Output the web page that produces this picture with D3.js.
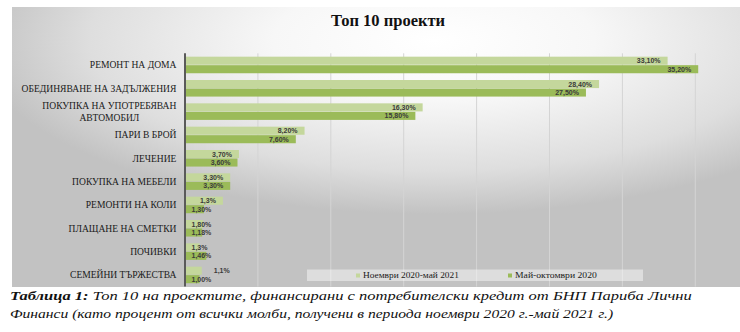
<!DOCTYPE html>
<html><head><meta charset="utf-8">
<script src="https://cdn.jsdelivr.net/npm/d3@7"></script>
<style>html,body{margin:0;padding:0;background:#fff;overflow:hidden}</style>
</head><body>
<svg id="c" width="740" height="332"></svg>
<script>
const categories = ["РЕМОНТ НА ДОМА","ОБЕДИНЯВАНЕ НА ЗАДЪЛЖЕНИЯ","ПОКУПКА НА УПОТРЕБЯВАН\nАВТОМОБИЛ","ПАРИ В БРОЙ","ЛЕЧЕНИЕ","ПОКУПКА НА МЕБЕЛИ","РЕМОНТИ НА КОЛИ","ПЛАЩАНЕ НА СМЕТКИ","ПОЧИВКИ","СЕМЕЙНИ ТЪРЖЕСТВА"];
const seriesNames = ["Ноември 2020-май 2021","Май-октомври 2020"];
const valuesNov = [33.1, 28.4, 16.3, 8.2, 3.7, 3.1, 2.6, 1.25, 1.0, 1.15];
const valuesMay = [35.2, 27.5, 15.8, 7.6, 3.6, 3.1, 1.3, 1.18, 1.46, 1.0];
const labelsNov = ["33,10%","28,40%","16,30%","8,20%","3,70%","3,30%","1,3%","1,80%","1,3%","1,1%"];
const labelsMay = ["35,20%","27,50%","15,80%","7,60%","3,60%","3,30%","1,30%","1,18%","1,46%","1,00%"];
const xTicks = [0,5,10,15,20,25,30,35,40];
const title = "Топ 10 проекти";
const captionBold = "Таблица 1:";
const captionLine1 = " Топ 10 на проектите, финансирани с потребителски кредит от БНП Париба Лични";
const captionLine2 = "Финанси (като процент от всички молби, получени в периода ноември 2020 г.-май 2021 г.)";

const colors = ["#c4d79c", "#9bbb59"];
const svg = d3.select("#c");
const SERIF = "'Liberation Serif', 'Times New Roman', serif";

function stretch(t, ax, sx){
  t.attr("transform", `translate(${ax},0) scale(${sx},1) translate(${-ax},0)`);
}

// background gradient
const defs = svg.append("defs");
const rg = defs.append("radialGradient").attr("id","bg")
  .attr("cx","0.57").attr("cy","0.12").attr("r","0.62").attr("fx","0.57").attr("fy","0.12");
rg.append("stop").attr("offset","0").attr("stop-color","#ffffff");
rg.append("stop").attr("offset","0.35").attr("stop-color","#f7f7f7");
rg.append("stop").attr("offset","0.75").attr("stop-color","#dedede");
rg.append("stop").attr("offset","1").attr("stop-color","#c2c2c2");
svg.append("rect").attr("x",12).attr("y",7).attr("width",740).attr("height",280).attr("fill","url(#bg)");

svg.append("text").attr("x",388).attr("y",26).attr("text-anchor","middle")
  .attr("font-family",SERIF).attr("font-weight","bold").attr("font-size",16.5)
  .attr("fill","#111").text(title);

const x = d3.scaleLinear().domain([0,40]).range([185, 185 + 40*14.58]);
const y = d3.scaleBand().domain(categories).range([53.3, 286.6]).paddingInner(0.29).paddingOuter(0.145);
const ys = d3.scaleBand().domain([0,1]).range([0, y.bandwidth()]).paddingInner(0.05);

// gridlines
svg.append("g").selectAll("line").data(xTicks.filter(t=>t>0)).join("line")
  .attr("x1",d=>x(d)).attr("x2",d=>x(d)).attr("y1",53.3).attr("y2",286.6)
  .attr("stroke","#d4d4d4").attr("stroke-width",1);

// legend box
const lg = svg.append("g");
lg.append("rect").attr("x",307).attr("y",269.5).attr("width",336).attr("height",11.5)
  .attr("fill","#ffffff").attr("fill-opacity",0.45);

// bars
const rows = categories.map((c,i)=>({c, vals:[valuesNov[i], valuesMay[i]], labs:[labelsNov[i], labelsMay[i]], i}));
const gRows = svg.append("g").selectAll("g").data(rows).join("g")
  .attr("transform", d=>`translate(0,${y(d.c)})`);
gRows.selectAll("rect").data(d=>d.vals.map((v,k)=>({v,k}))).join("rect")
  .attr("x", x(0)).attr("y", d=>ys(d.k)).attr("height", ys.bandwidth())
  .attr("width", d=>x(d.v)-x(0)).attr("fill", d=>colors[d.k]);

// data labels
const outside = new Set(["СЕМЕЙНИ ТЪРЖЕСТВА|0"]);
gRows.each(function(r){
  const g = d3.select(this);
  r.vals.forEach((v,k)=>{
    const t = g.append("text").attr("font-family","Liberation Sans").attr("font-weight","bold")
      .attr("font-size",7).attr("fill","#3a3a3a").attr("dominant-baseline","central")
      .attr("y", ys(k)+ys.bandwidth()/2).text(r.labs[k]);
    const w = t.node().getComputedTextLength();
    let x0;
    if (outside.has(r.c+"|"+k)) x0 = x(v) + 12;
    else x0 = Math.max(x(0)+6.5, x(v) - 7 - w);
    t.attr("x", x0);
  });
});

// axis line
svg.append("line").attr("x1",x(0)).attr("x2",x(0)).attr("y1",53.3).attr("y2",286.6)
  .attr("stroke","#5a5a5a").attr("stroke-width",2);

// category labels
const cl = svg.append("g").attr("font-family",SERIF).attr("font-size",10).attr("fill","#1a1a1a");
const catTexts = [];
categories.forEach(c=>{
  const lines = c.split("\n");
  const cy = y(c) + y.bandwidth()/2;
  const lh = 12;
  const t = cl.append("text").attr("text-anchor","middle");
  lines.forEach((ln,j)=>{
    t.append("tspan").attr("dy", j===0 ? 0 : lh).text(ln);
  });
  let maxW = 0;
  t.selectAll("tspan").each(function(){ maxW = Math.max(maxW, this.getComputedTextLength()); });
  t.attr("y", cy - (lines.length-1)*lh/2 + 3.4);
  catTexts.push({t, maxW});
});
const widest = d3.max(catTexts, d=>d.maxW);
const sxCat = 155 / widest;
catTexts.forEach(({t,maxW})=>{
  const cx = 176.5 - maxW*sxCat/2;
  t.selectAll("tspan").attr("x", cx);
  stretch(t, cx, sxCat);
});

// legend items
const li = lg.append("g").attr("font-family",SERIF).attr("font-size",8.3).attr("fill","#1a1a1a");
[[356, seriesNames[0], 96],[508, seriesNames[1], 82]].forEach(([lx,name,tw],k)=>{
  li.append("rect").attr("x",lx).attr("y",273.5).attr("width",4).attr("height",4).attr("fill",colors[k]);
  const t = li.append("text").attr("x",lx+7).attr("y",278.5).text(name);
  const w = t.node().getComputedTextLength();
  stretch(t, lx+7, tw/w);
});

// caption
const cap = svg.append("g").attr("font-family",SERIF).attr("font-style","italic").attr("font-size",13.2).attr("fill","#111");
const l1 = cap.append("text").attr("x",10).attr("y",300);
l1.append("tspan").attr("font-weight","bold").text(captionBold);
l1.append("tspan").text(captionLine1);
const l2 = cap.append("text").attr("x",10).attr("y",318.5).text(captionLine2);
stretch(l1, 10, 682 / l1.node().getComputedTextLength());
stretch(l2, 10, 603 / l2.node().getComputedTextLength());
</script>
</body></html>
